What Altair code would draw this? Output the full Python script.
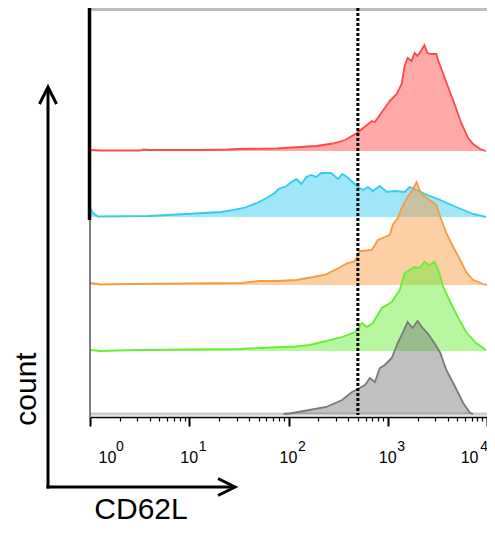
import altair as alt
import pandas as pd

# ---------------- data (log10 CD62L position, histogram height) ----------------
red_log = [0.00, 0.10, 0.50, 0.54, 0.59, 1.09, 1.39, 1.49, 1.88, 2.28, 2.45, 2.57, 2.69, 2.84, 2.87,
           2.97, 3.02, 3.09, 3.14, 3.17, 3.20, 3.24, 3.27, 3.30, 3.34, 3.37, 3.40, 3.44, 3.49, 3.51,
           3.56, 3.63, 3.68, 3.74, 3.81, 3.86, 3.93, 3.99]
red_count = [1, 0.5, 0.5, 1.5, 1, 1, 1.5, 2, 2.5, 5, 7.5, 11, 18, 30, 29,
             43, 50, 57, 67, 85, 93, 90, 98, 95, 101, 106, 98, 97, 97, 90,
             77, 58, 45, 28, 13, 7, 2, 0]

blue_log = [0.00, 0.03, 0.08, 0.59, 0.97, 1.32, 1.42, 1.55, 1.68, 1.78, 1.86, 1.90, 1.98, 2.03, 2.08,
            2.13, 2.18, 2.23, 2.28, 2.33, 2.43, 2.50, 2.54, 2.59, 2.69, 2.75, 2.80, 2.85, 2.92, 2.99,
            3.07, 3.17, 3.22, 3.29, 3.40, 3.53, 3.69, 3.86, 3.99]
blue_count = [9, 4, 0.5, 1, 3, 5, 6.7, 9, 14, 19, 24, 28, 31, 35, 38,
              33, 40, 42, 40, 44, 44, 38, 43, 40, 31, 27, 30, 26, 31, 25,
              26, 25, 30, 27, 22, 17, 10, 3, 0]

orange_log = [0.00, 0.10, 0.40, 1.53, 1.70, 1.88, 2.08, 2.25, 2.38, 2.50, 2.59, 2.67, 2.72, 2.84, 2.90,
              2.97, 3.02, 3.05, 3.10, 3.14, 3.20, 3.25, 3.29, 3.32, 3.35, 3.42, 3.49, 3.53, 3.59, 3.66,
              3.73, 3.79, 3.86, 3.96, 4.00]
orange_count = [2, 0.5, 1, 2, 4, 4, 5, 8, 10.7, 16.7, 21.7, 24, 34, 35, 45,
                48, 50, 60, 67, 77, 88, 95, 103, 95, 90, 85, 80, 68, 52, 38,
                25, 13, 5, 1, 0]

green_log = [0.00, 0.10, 0.48, 1.50, 1.83, 2.08, 2.21, 2.38, 2.54, 2.67, 2.74, 2.79, 2.85, 2.94, 3.04,
             3.12, 3.17, 3.22, 3.27, 3.32, 3.37, 3.42, 3.47, 3.51, 3.56, 3.63, 3.71, 3.79, 3.89, 3.99]
green_count = [1, 0, 1, 2, 3.5, 4.5, 6, 10, 14, 19, 28, 24, 28, 43, 49,
               61, 78, 81, 84, 83, 89, 86, 89, 81, 64, 49, 33, 19, 8, 1]

gray_log = [1.95, 2.01, 2.21, 2.38, 2.54, 2.64, 2.70, 2.77, 2.82, 2.87, 2.92, 2.97, 3.04, 3.10, 3.15,
            3.20, 3.25, 3.30, 3.35, 3.40, 3.47, 3.53, 3.59, 3.68, 3.76, 3.83, 3.86]
gray_count = [0, 0.5, 4, 7, 14, 22, 25, 29, 36, 32, 46, 49, 56, 71, 81,
              92, 86, 93, 86, 81, 71, 61, 44, 27, 11, 1, 0]

gate_value = [500]
major_ticks = [1, 10, 100, 1000, 10000]
minor_ticks = [m * 10 ** k for k in range(4) for m in range(2, 10)]

# ---------------- styling ----------------
W, H = 397, 407
FONT = "Liberation Sans"
series = [
    ("red", red_log, red_count, "#ff4848", 264),
    ("blue", blue_log, blue_count, "#33ccf0", 198),
    ("orange", orange_log, orange_count, "#f89a40", 130),
    ("green", green_log, green_count, "#66ee33", 64),
    ("gray", gray_log, gray_count, "#7a7a7a", 1),
]

xscale = alt.Scale(type="log", domain=[1, 10000], nice=False)
yscale = alt.Scale(domain=[0, H], nice=False, zero=False)

axis_main = alt.Axis(orient="bottom", values=major_ticks, labelExpr="'10'", tickSize=9, tickWidth=2,
                     tickColor="black", domain=True, domainColor="black", domainWidth=1.5,
                     labelFont=FONT, labelFontSize=16, labelColor="black", labelBaseline="alphabetic",
                     labelPadding=36, labelFlush=True, labelOffset=-0.5, labelFlushOffset=-8.5,
                     labelOverlap=False, grid=False, title=None, offset=2)
axis_exp = alt.Axis(orient="bottom", values=major_ticks,
                    labelExpr="'' + round(log(datum.value) / LN10)", ticks=False, tickSize=0,
                    domain=False, labelFont=FONT, labelFontSize=14, labelColor="black",
                    labelBaseline="alphabetic", labelPadding=33, labelFlush=True, labelOffset=13,
                    labelFlushOffset=-12.5, labelOverlap=False, grid=False, title=None, offset=2)
axis_minor = alt.Axis(orient="bottom", values=minor_ticks, labels=False, tickSize=4, tickWidth=1.2,
                      tickColor="black", domain=False, grid=False, title=None, offset=2)
axes = [axis_main, axis_minor, axis_exp]

one = pd.DataFrame({"k": [0]})
layers = []

# frame bands
layers.append(alt.Chart(one).mark_rule(color="#bdbdbd", strokeWidth=3).encode(
    x=alt.value(0), x2=alt.value(W), y=alt.value(1.5)))
layers.append(alt.Chart(one).mark_rule(color="#cccccc", strokeWidth=3).encode(
    x=alt.value(0), x2=alt.value(W), y=alt.value(406)))

axis_i = 0
for name, logs, counts, col, off in series:
    df = pd.DataFrame({
        "cd62l": [10 ** v for v in logs],
        "top": [off + c for c in counts],
        "base": [off] * len(logs),
    })
    for kind in ("area", "line"):
        ax = axes[axis_i] if axis_i < len(axes) else None
        axis_i += 1
        xenc = alt.X("cd62l:Q", scale=xscale, axis=ax)
        if kind == "area":
            layers.append(alt.Chart(df).mark_area(color=col, fillOpacity=0.47).encode(
                x=xenc, y=alt.Y("top:Q", scale=yscale, axis=None), y2="base:Q"))
        else:
            layers.append(alt.Chart(df).mark_line(color=col, strokeWidth=1.8).encode(
                x=xenc, y=alt.Y("top:Q", scale=yscale, axis=None)))

# gate (dotted line)
layers.append(alt.Chart(pd.DataFrame({"cd62l": gate_value})).mark_rule(
    color="black", strokeWidth=3, strokeDash=[3, 2]).encode(
    x=alt.X("cd62l:Q", scale=xscale, axis=None)))

# left frame lines
layers.append(alt.Chart(one).mark_rule(color="black", strokeWidth=3.5).encode(
    x=alt.value(-0.5), y=alt.value(0), y2=alt.value(212)))
layers.append(alt.Chart(one).mark_rule(color="#555555", strokeWidth=1.5).encode(
    x=alt.value(0), y=alt.value(212), y2=alt.value(409)))

# arrows
layers.append(alt.Chart(one).mark_rule(color="black", strokeWidth=3).encode(
    x=alt.value(-42), y=alt.value(80), y2=alt.value(480.5)))
layers.append(alt.Chart(one).mark_rule(color="black", strokeWidth=3).encode(
    x=alt.value(-43.5), x2=alt.value(144), y=alt.value(479)))
layers.append(alt.Chart(one).mark_point(shape="M-1,1L0,-1L1,1", filled=False, size=289, strokeWidth=3,
                                        color="black", opacity=1, strokeJoin="miter").encode(
    x=alt.value(-42), y=alt.value(87.5)))
layers.append(alt.Chart(one).mark_point(shape="M-1,-1L1,0L-1,1", filled=False, size=289, strokeWidth=3,
                                        color="black", opacity=1, strokeJoin="miter").encode(
    x=alt.value(136.5), y=alt.value(479)))

# titles
layers.append(alt.Chart(one).mark_text(text="count", angle=270, fontSize=30, font=FONT, align="center",
                                       baseline="alphabetic", color="black").encode(
    x=alt.value(-54), y=alt.value(381)))
layers.append(alt.Chart(one).mark_text(text="CD62L", fontSize=30, font=FONT, align="center",
                                       baseline="alphabetic", color="black").encode(
    x=alt.value(51), y=alt.value(511)))

chart = alt.layer(*layers).properties(
    width=W, height=H,
    padding={"left": 82, "top": 0, "right": 0, "bottom": 112},
    autosize=alt.AutoSizeParams(type="none"),
    background="white",
).resolve_axis(x="independent").configure_view(stroke=None)

chart.save("out.html", embed_options={"renderer": "svg", "actions": False})
